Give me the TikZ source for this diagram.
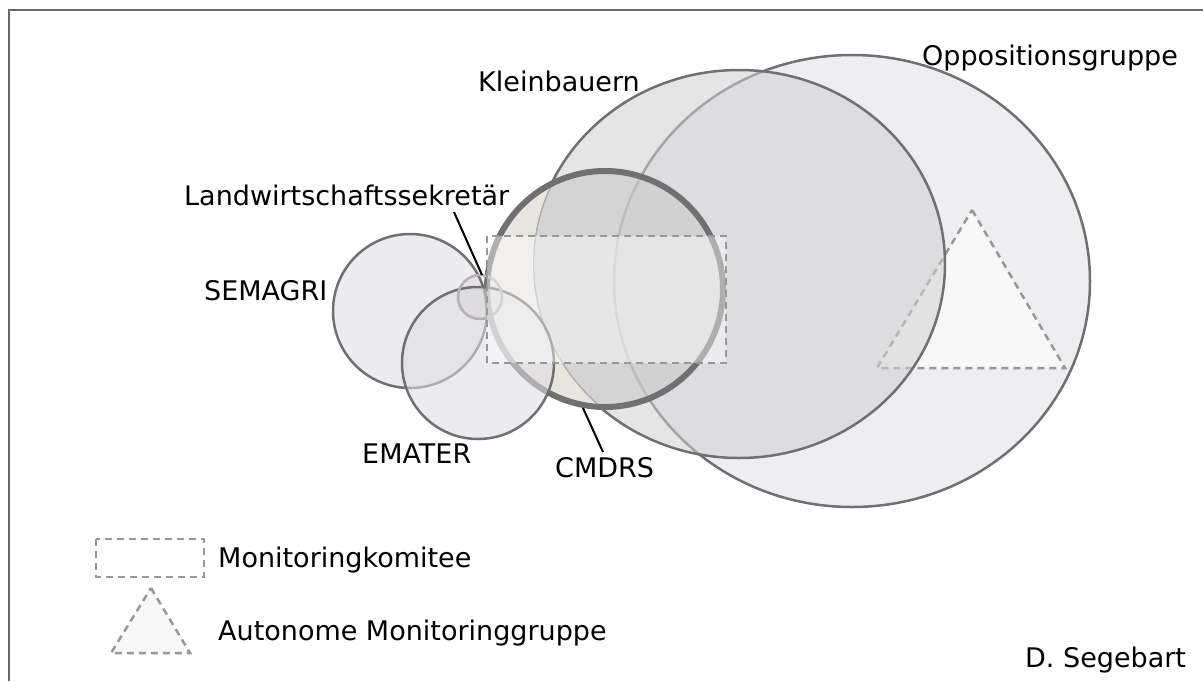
\documentclass[tikz,border=0pt]{standalone}
\usepackage{fontspec}
\setmainfont{DejaVu Sans}
\definecolor{edgegray}{RGB}{112,112,114}
\definecolor{framegray}{RGB}{105,105,105}
\definecolor{oppfill}{RGB}{238,237,240}
\definecolor{kleinfill}{RGB}{208,208,210}
\definecolor{cmdrsbeige}{RGB}{231,229,222}
\definecolor{cmdrsgray}{RGB}{203,203,204}
\definecolor{orgfill}{RGB}{223,221,228}
\definecolor{dashgray}{RGB}{152,152,152}
\definecolor{trifill}{RGB}{248,248,248}
\definecolor{lwsedge}{RGB}{182,176,176}
\begin{document}
\begin{tikzpicture}[x=1pt,y=-1pt,
  txt/.style={font=\fontsize{27}{32}\selectfont, anchor=base west, inner sep=0pt},
  ring/.style={draw=edgegray, line width=2.5pt},
  orgcircle/.style={fill=orgfill, fill opacity=0.57, ring},
  dashedbox/.style={draw=dashgray, line width=2.5pt, dash pattern=on 7pt off 5pt},
  leader/.style={draw=black, line width=2pt}]
\useasboundingbox (0,0) rectangle (1203,681);
\fill[white] (0,0) rectangle (1203,681);
% frame
\draw[framegray, line width=2pt] (9,681) -- (9,10) -- (1203,10);

% Oppositionsgruppe
\filldraw[fill=oppfill, ring] (852,281) ellipse [x radius=238, y radius=226];
% autonomous monitoring group
\filldraw[fill=trifill, dashedbox] (972,210) -- (1065,368) -- (877,368) -- cycle;
% Kleinbauern
\fill[kleinfill, fill opacity=0.55] (739,264) ellipse [x radius=206, y radius=194];
\draw[ring] (739,264) ellipse [x radius=206, y radius=194];

% CMDRS
\begin{scope}
  \clip (605,289) circle [radius=118];
  \fill[cmdrsbeige, even odd rule] (605,289) circle [radius=118] (739,264) ellipse [x radius=206, y radius=194];
\end{scope}
\begin{scope}
  \clip (739,264) ellipse [x radius=206, y radius=194];
  \fill[cmdrsgray, fill opacity=0.64] (605,289) circle [radius=118];
\end{scope}
\draw[draw=edgegray, line width=6pt] (605,289) circle [radius=118];

% SEMAGRI and EMATER
\filldraw[orgcircle] (410,311) circle [radius=77];
\filldraw[orgcircle] (478,363) circle [radius=76];
% Landwirtschaftssekretaer
\filldraw[fill=gray, fill opacity=0.08, draw=lwsedge, line width=2.5pt] (480,297) circle [radius=22];

% monitoring committee
\filldraw[fill=white, fill opacity=0.44, dashedbox] (487,236) rectangle (726,363);

% labels
\node[txt] (klein) at (478,91) {Kleinbauern};
\node[txt] (opp) at (922,65) {Oppositionsgruppe};
\node[txt] (lws) at (184,205) {Landwirtschaftssekretär};
\node[txt] (semagri) at (204,300) {SEMAGRI};
\node[txt] (emater) at (362,463) {EMATER};
\node[txt] (cmdrs) at (555,477) {CMDRS};

% leader lines
\coordinate (lwsA) at (454,212);
\coordinate (lwsB) at (482,275);
\draw[leader] (lwsA) -- (lwsB);
\coordinate (cmdrsA) at (583,408);
\coordinate (cmdrsB) at (603,452);
\draw[leader] (cmdrsA) -- (cmdrsB);

% legend
\draw[dashedbox] (96,539) rectangle (204,577);
\filldraw[fill=trifill, dashedbox] (151,588) -- (190,653) -- (111,653) -- cycle;
\node[txt] (legbox) at (218,567) {Monitoringkomitee};
\node[txt] (legtri) at (218,640) {Autonome Monitoringgruppe};
\node[txt] (author) at (1025,667) {D. Segebart};
\end{tikzpicture}
\end{document}
